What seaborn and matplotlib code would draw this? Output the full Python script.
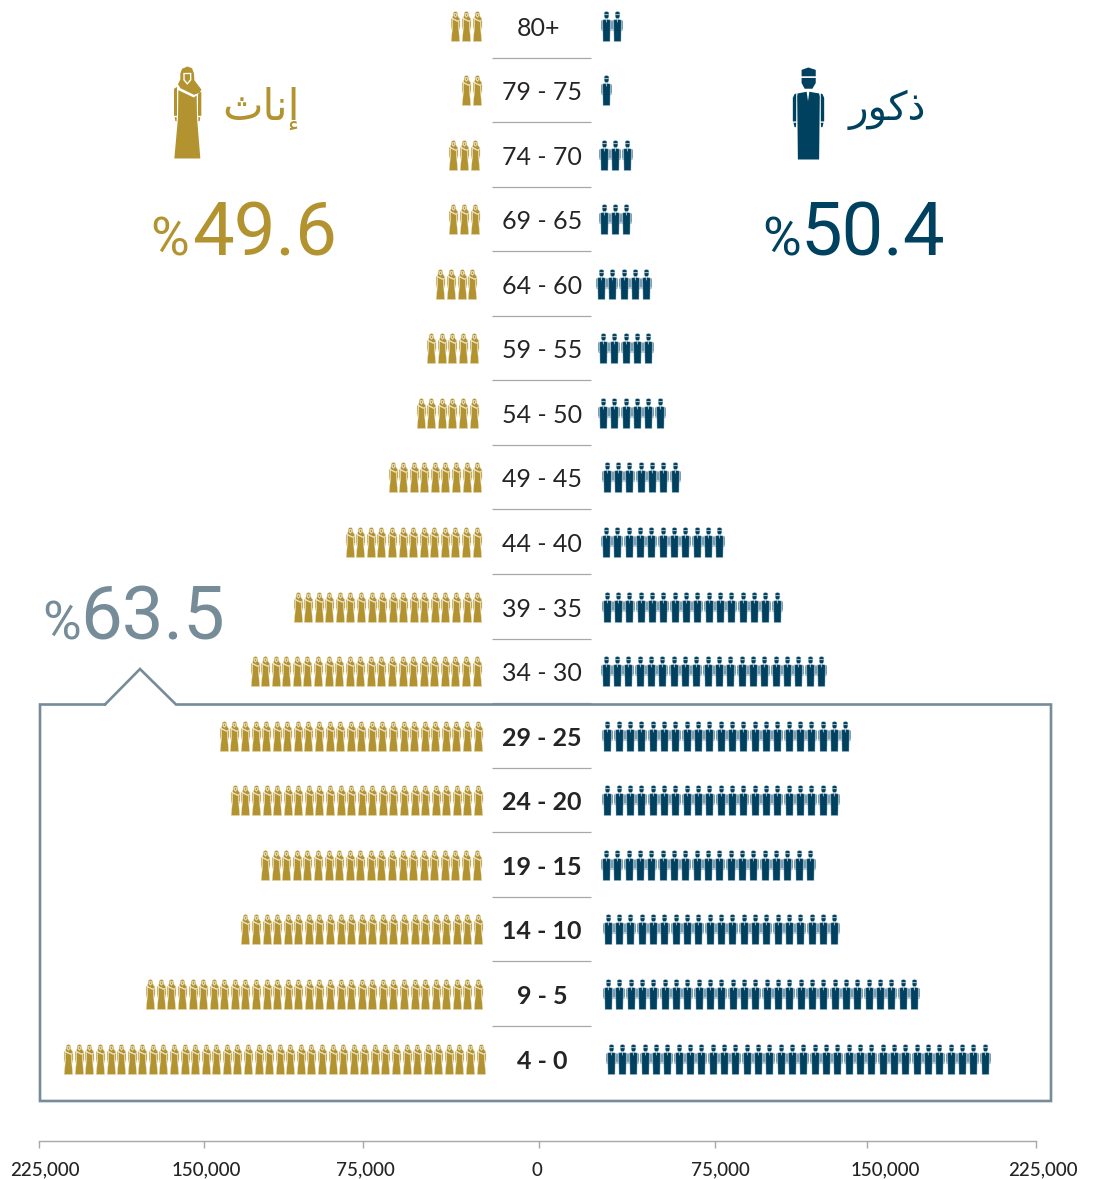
import numpy as np
import pandas as pd
import matplotlib
matplotlib.use('Agg')
import matplotlib.pyplot as plt
from matplotlib.markers import MarkerStyle
from matplotlib.path import Path
import seaborn as sns

# Age groups, top row first
age_groups = ['80+', '79 - 75', '74 - 70', '69 - 65', '64 - 60', '59 - 55', '54 - 50', '49 - 45', '44 - 40',
              '39 - 35', '34 - 30', '29 - 25', '24 - 20', '19 - 15', '14 - 10', '9 - 5', '4 - 0']
# One icon per person-block, counted from the picture
female_icons = [3, 2, 3, 3, 4, 5, 6, 9, 13, 18, 22, 25, 24, 21, 23, 32, 40]
male_icons = [2, 1, 3, 3, 5, 5, 6, 7, 11, 16, 20, 22, 21, 19, 21, 28, 34]
highlighted = age_groups[11:]

tick_labels = ['225,000', '150,000', '75,000', '0', '75,000', '150,000', '225,000']
female_label = '\uFE99\uFE8E\uFEE7\uFE87'  # إناث, shaped by hand in visual order
male_label = '\uFEAD\uFEEE\uFEDB\uFEAB'  # ذكور
female_share = '49.6'
male_share = '50.4'
box_share = '63.5'

# Layout, in pixels of the 1097x1180 picture
tick_pos = [39, 204, 363, 539, 715, 867, 1036]
tick_label_pos = [45, 206, 365, 537, 720, 885, 1043]
female_edge = [481, 481, 479, 479, 476.7, 478, 478, 481.7, 481, 481.7, 481, 482, 482.5, 481, 482.5, 482.5, 485]
male_edge = [601, 601, 599, 598.7, 596, 598, 598, 601.7, 601, 601.7, 600.7, 602.3, 602.3, 601, 602.7, 603, 605.7]
row_top = 25.5
row_step = 64.57
female_pitch = 10.57
male_pitch = 11.33
female_w = 9.0
male_w = 10.2

GOLD = '#B39330'
GOLD_PALE = '#E6DBB6'
NAVY = '#00415F'
NAVY_PALE = '#A3BACA'
SLATE = '#768C98'
DARK = '#262324'
GREY = '#A6A8AA'
DPI = 100


def make_icon(polygons, cx, cy, height):
    # polygons are traced in zoomed picture pixels, y pointing down
    verts, codes = [], []
    for poly in polygons:
        pts = [((x - cx) / height, (cy - y) / height) for x, y in poly]
        verts += pts + [pts[0]]
        codes += [Path.MOVETO] + [Path.LINETO] * (len(pts) - 1) + [Path.CLOSEPOLY]
    return MarkerStyle(Path(verts, codes))


female_path = make_icon([
    [(150, 68), (155, 54), (171, 47), (185, 52), (191, 68), (192, 88), (213, 116), (208, 126), (191, 132), (150, 112),
     (143, 100), (150, 86)],
    [(159, 66), (159, 88), (171, 102), (183, 88), (183, 66)],  # face hole
    [(163, 70), (179, 70), (179, 86), (171, 96), (163, 86)],
    [(144, 118), (190, 140), (199, 134), (200, 200), (210, 323), (132, 323), (143, 200)],
    [(131, 114), (140, 108), (140, 195), (131, 195)],
    [(203, 130), (213, 122), (213, 195), (203, 195)],
    [(133, 199), (139, 199), (139, 211), (135, 211)],
    [(204, 199), (210, 199), (208, 211), (204, 211)],
], 171.5, 185, 276)

male_path = make_icon([
    [(153, 57), (173, 50), (195, 57), (195, 76), (153, 76)],
    [(153, 81), (195, 81), (195, 96), (185, 113), (162, 113), (153, 96)],
    [(141, 127), (168, 122), (172, 150), (176, 122), (205, 127), (207, 136), (205, 323), (142, 323), (140, 136)],
    [(127, 140), (132, 129), (137, 127), (137, 210), (127, 210)],
    [(210, 127), (215, 129), (220, 140), (220, 210), (210, 210)],
    [(129, 214), (137, 214), (136, 227), (132, 227)],
    [(210, 214), (218, 214), (215, 227), (211, 227)],
], 173.5, 186.5, 273)


def icon_size(height_px):
    return (height_px * 72 / DPI) ** 2


sns.set_theme(style='white')
plt.rcParams['font.family'] = ['Lato', 'DejaVu Sans']

rows = np.arange(len(age_groups))
row_y = row_top + rows * row_step

female_df = pd.DataFrame({
    'x': [female_edge[r] - female_w / 2 - i * female_pitch for r in rows for i in range(female_icons[r])],
    'y': [row_y[r] for r in rows for i in range(female_icons[r])],
})
male_df = pd.DataFrame({
    'x': [male_edge[r] + male_w / 2 + i * male_pitch for r in rows for i in range(male_icons[r])],
    'y': [row_y[r] for r in rows for i in range(male_icons[r])],
})

fig = plt.figure(figsize=(10.97, 11.8), dpi=DPI)
ax = fig.add_axes([0, 0, 1, 1])
ax.set_xlim(0, 1097)
ax.set_ylim(1180, 0)

# The thin pale edge gives the soft outlines the small icons have in the original
sns.scatterplot(data=female_df, x='x', y='y', marker=female_path, s=icon_size(30), color=GOLD, edgecolor=GOLD_PALE,
                linewidth=0.3, legend=False, ax=ax)
sns.scatterplot(data=male_df, x='x', y='y', marker=male_path, s=icon_size(30), color=NAVY, edgecolor=NAVY_PALE,
                linewidth=0.3, legend=False, ax=ax)

# Big header figures
sns.scatterplot(x=[187], y=[112], marker=female_path, s=icon_size(92), color=GOLD, linewidth=0, legend=False, ax=ax)
sns.scatterplot(x=[807.5], y=[112.5], marker=male_path, s=icon_size(92), color=NAVY, linewidth=0, legend=False, ax=ax)

# Age labels and the short rules between them
for r, age in enumerate(age_groups):
    bold = age in highlighted
    cx = 539 if age == '80+' else 542
    ax.text(cx, row_y[r] + 2.5, age, ha='center', va='center', fontsize=18, color=DARK,
            fontweight='bold' if bold else 'normal')
ax.hlines(row_y[:-1] + 32, 492, 591, color=GREY, linewidth=0.9)

# Box round the young age groups
box_x = [105, 40, 40, 1051, 1051, 176, 140, 105]
box_y = [704.5, 704.5, 1101, 1101, 704.5, 704.5, 669, 704.5]
ax.plot(box_x, box_y, color=SLATE, linewidth=1.9, solid_joinstyle='miter')

# Shares and headings
for digits, color, pct_right, digit_left, base in [(female_share, GOLD, 189, 192, 255),
                                                  (male_share, NAVY, 801, 800, 255),
                                                  (box_share, SLATE, 81, 80, 640)]:
    ax.text(digit_left, base, digits, ha='left', va='baseline', fontsize=53.5, color=color, family='Roboto')
    ax.text(pct_right, base, '%', ha='right', va='baseline', fontsize=38, color=color, family='Roboto')
ax.text(300, 120, female_label, ha='right', va='baseline', fontsize=31, color=GOLD, family='DejaVu Sans')
ax.text(926, 120, male_label, ha='right', va='baseline', fontsize=29, color=NAVY, family='DejaVu Sans')

# Bottom axis: ticks and labels do not line up in the original, so labels sit on minor ticks
sns.despine(ax=ax, left=True, top=True, right=True)
ax.spines['bottom'].set_position(('data', 1141))
ax.spines['bottom'].set_bounds(39, 1036)
ax.spines['bottom'].set_color(GREY)
ax.spines['bottom'].set_linewidth(1.0)
ax.set_xticks(tick_pos, [''] * len(tick_pos))
ax.set_xticks(tick_label_pos, tick_labels, minor=True)
ax.tick_params(axis='x', which='major', direction='out', bottom=True, length=5, width=1.0, color=GREY)
ax.tick_params(axis='x', which='minor', bottom=True, length=0, pad=15, labelsize=13.5, labelcolor=DARK)
for label in ax.get_xticklabels(minor=True):
    label.set_fontweight(500)
ax.set_yticks([])
ax.set_xlabel('')
ax.set_ylabel('')

fig.savefig('out.png', dpi=DPI)
